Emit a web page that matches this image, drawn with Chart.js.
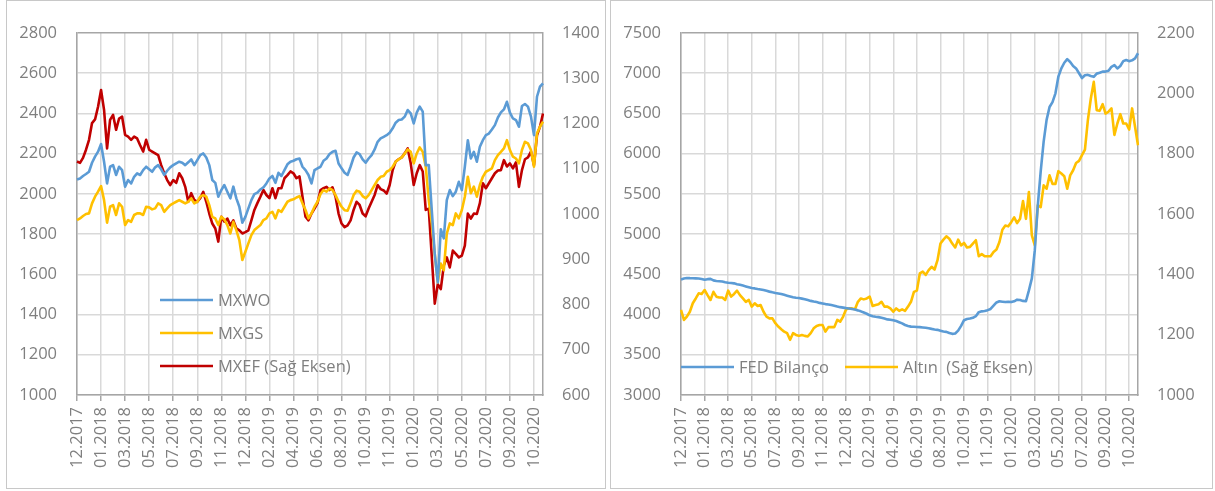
<!DOCTYPE html>
<html>
<head>
<meta charset="utf-8">
<script src="https://cdn.jsdelivr.net/npm/chart.js@4"></script>
<style>
  body { margin: 0; background: #ffffff; }
  .panel { position: absolute; top: 0; height: 487px; border: 1px solid #c8c8c8; background: #fff; }
  #leftPanel { left: 6px; width: 598px; }
  #rightPanel { left: 610px; width: 601px; }
  canvas { display: block; }
</style>
</head>
<body>
<div class="panel" id="leftPanel"><canvas id="leftChart" width="598" height="487"></canvas></div>
<div class="panel" id="rightPanel"><canvas id="rightChart" width="601" height="487"></canvas></div>
<script>
// axis labels shown under the charts (one every 8 weeks)
const tickLabels = ['12.2017','01.2018','03.2018','05.2018','07.2018','09.2018','11.2018','12.2018',
  '02.2019','04.2019','06.2019','08.2019','10.2019','11.2019','01.2020','03.2020',
  '05.2020','07.2020','09.2020','10.2020']

// weekly values
const mxwo = [2072,2077,2089,2099,2110,2155,2185,2210,
  2248,2160,2052,2135,2143,2094,2135,2118,
  2036,2069,2052,2085,2102,2094,2118,2135,
  2122,2110,2132,2143,2122,2094,2115,2132,
  2143,2152,2160,2155,2143,2157,2172,2143,
  2168,2193,2201,2181,2143,2069,2055,1986,
  2019,2044,2011,1978,2036,1978,1936,1857,
  1886,1928,1969,1999,2006,2022,2032,2052,
  2077,2089,2055,2105,2089,2118,2147,2160,
  2165,2172,2176,2135,2118,2094,2052,2118,
  2127,2135,2165,2176,2198,2209,2214,2151,
  2127,2105,2094,2135,2181,2206,2198,2172,
  2155,2176,2193,2221,2259,2276,2284,2292,
  2304,2326,2354,2367,2370,2384,2417,2400,
  2350,2404,2434,2409,2143,2143,1920,1700,
  1560,1824,1779,1969,2019,1989,2011,2060,
  2019,2135,2267,2176,2209,2160,2234,2267,
  2292,2300,2320,2342,2380,2405,2420,2458,
  2404,2375,2367,2334,2437,2447,2434,2384,
  2292,2483,2533,2550]

const mxgs = [1870,1878,1890,1900,1903,1953,1986,2011,
  2039,1969,1857,1936,1944,1895,1953,1936,
  1845,1870,1861,1895,1903,1903,1895,1936,
  1933,1923,1928,1953,1944,1911,1928,1944,
  1953,1961,1969,1961,1953,1961,1978,1953,
  1961,1986,1994,1986,1944,1886,1878,1845,
  1886,1873,1845,1803,1861,1820,1770,1671,
  1712,1754,1795,1820,1833,1845,1870,1878,
  1903,1911,1878,1919,1911,1936,1961,1969,
  1973,1982,1989,1953,1920,1878,1903,1936,
  1961,1999,2019,2011,2027,2019,1994,1961,
  1936,1919,1916,1953,1994,2016,2011,1989,
  1978,1994,2019,2044,2069,2085,2089,2110,
  2118,2135,2160,2172,2181,2201,2221,2209,
  2152,2201,2231,2209,2135,1969,1853,1700,
  1560,1654,1621,1803,1853,1845,1903,1878,
  1919,1986,2085,2003,2036,1986,2044,2085,
  2110,2118,2127,2168,2193,2209,2226,2267,
  2218,2185,2176,2152,2218,2259,2251,2218,
  2135,2301,2334,2359]

const mxef = [1116,1113,1124,1142,1164,1201,1209,1237,
  1274,1230,1145,1208,1219,1186,1211,1215,
  1175,1171,1164,1171,1167,1152,1138,1164,
  1142,1138,1134,1130,1108,1090,1075,1064,
  1075,1069,1090,1079,1060,1027,1046,1031,
  1027,1035,1049,1027,1001,979,968,939,
  994,983,990,975,986,968,964,957,
  960,964,986,1009,1024,1038,1053,1042,
  1035,1057,1035,1057,1057,1079,1086,1094,
  1090,1079,1083,1038,994,986,1001,1012,
  1024,1053,1057,1060,1053,1059,1038,1001,
  979,971,975,986,1009,1027,1020,1001,
  995,1012,1027,1042,1064,1055,1052,1045,
  1064,1097,1116,1121,1125,1134,1145,1112,
  1064,1090,1108,1094,1009,1012,906,802,
  845,834,886,904,882,919,912,904,
  908,930,1001,990,1001,1000,1024,1068,
  1057,1068,1079,1090,1096,1097,1119,1105,
  1112,1101,1114,1060,1097,1121,1125,1138,
  1108,1174,1193,1222]

const fedBalance = [4436,4448,4455,4453,4452,4450,4448,4442,
  4432,4440,4443,4425,4418,4415,4410,4402,
  4395,4392,4388,4378,4370,4360,4350,4340,
  4330,4325,4318,4312,4305,4295,4285,4276,
  4268,4262,4255,4245,4235,4225,4215,4208,
  4205,4198,4190,4180,4170,4162,4155,4145,
  4138,4130,4125,4118,4110,4100,4092,4086,
  4080,4076,4070,4062,4052,4040,4025,4010,
  3990,3978,3972,3968,3960,3950,3940,3935,
  3928,3920,3905,3890,3870,3858,3850,3848,
  3846,3844,3840,3836,3830,3822,3815,3810,
  3800,3790,3785,3770,3760,3765,3800,3860,
  3930,3945,3950,3960,3980,4030,4040,4045,
  4055,4070,4110,4150,4165,4160,4155,4160,
  4155,4165,4185,4180,4170,4165,4300,4450,
  4800,5350,5780,6150,6420,6580,6640,6750,
  6960,7060,7130,7175,7140,7090,7060,7000,
  6940,6975,6980,6965,6955,6995,7005,7020,
  7020,7030,7080,7100,7060,7090,7150,7165,
  7150,7160,7185,7248]

const gold = [1282,1249,1260,1276,1304,1320,1337,1335,
  1348,1331,1315,1342,1326,1323,1323,1315,
  1346,1326,1335,1346,1331,1320,1309,1315,
  1293,1304,1295,1298,1276,1260,1254,1254,
  1238,1227,1218,1210,1205,1183,1205,1199,
  1196,1199,1196,1194,1205,1221,1229,1232,
  1232,1210,1225,1225,1225,1249,1243,1260,
  1284,1287,1287,1284,1309,1320,1317,1320,
  1326,1295,1298,1301,1309,1293,1293,1287,
  1276,1287,1279,1284,1279,1293,1309,1342,
  1346,1403,1409,1398,1414,1425,1416,1447,
  1502,1515,1526,1518,1502,1489,1515,1496,
  1504,1489,1491,1502,1513,1460,1467,1460,
  1460,1460,1474,1482,1507,1548,1562,1559,
  1573,1589,1570,1584,1643,1584,1673,1529,
  1496,1629,1623,1695,1684,1728,1700,1700,
  1742,1734,1725,1684,1728,1745,1769,1776,
  1795,1813,1911,1983,2038,1944,1942,1964,
  1933,1939,1950,1862,1900,1931,1900,1900,
  1880,1950,1889,1828]

const weeksPerLabel = 8

// one category per week, named after the month label it falls under
weeks = []
for (let i = 0; i < mxwo.length; i++) {
  weeks.push(tickLabels[Math.floor(i / weeksPerLabel)])
}

const textGray = '#7f7f7f'
const gridGray = '#d9d9d9'
const frameGray = '#a6a6a6'
const fontFamily = "'Open Sans', 'Noto Sans', sans-serif"
const fontSize = 16.5

// plain numbers on the value axes, no thousands separator
function plainNumber(value) {
  return String(value)
}

// legend drawn inside the plot area, like the excel original
const insideLegend = {
  id: 'insideLegend',
  afterDatasetsDraw(chart, args, opts) {
    const ctx = chart.ctx
    const area = chart.chartArea
    ctx.save()
    ctx.font = fontSize + 'px ' + fontFamily
    ctx.textBaseline = 'middle'
    ctx.fillStyle = textGray
    chart.data.datasets.forEach((ds, k) => {
      const spot = opts.spots[k]
      const x = area.left + spot[0]
      const y = area.top + spot[1]
      ctx.strokeStyle = ds.borderColor
      ctx.lineWidth = ds.borderWidth
      ctx.beginPath()
      ctx.moveTo(x, y)
      ctx.lineTo(x + opts.lineLength, y)
      ctx.stroke()
      ctx.fillText(opts.names[k] || ds.label, x + opts.lineLength + opts.gap, y + 1)
    })
    ctx.restore()
  }
}

function lineSet(label, data, color, axis) {
  return {
    label: label,
    data: data,
    yAxisID: axis,
    borderColor: color,
    backgroundColor: color,
    borderWidth: 2.6,
    pointRadius: 0,
    tension: 0,
    borderJoinStyle: 'round',
    fill: false
  }
}

function makeOptions(leftMin, leftMax, leftStep, rightMin, rightMax, rightStep, rightWidth, legendOpts) {
  return {
    responsive: false,
    animation: false,
    layout: { padding: { top: 32, left: 0, right: 0, bottom: 0 } },
    plugins: {
      legend: { display: false },
      tooltip: { enabled: false },
      insideLegend: legendOpts
    },
    scales: {
      x: {
        type: 'category',
        offset: false,
        afterFit: (scale) => { scale.height = 93 },
        border: { display: true, color: frameGray, width: 1.5 },
        grid: {
          drawTicks: true,
          tickLength: 6,
          lineWidth: 1.5,
          color: (c) => (c.index % weeksPerLabel === 0 ? gridGray : 'rgba(0,0,0,0)'),
          tickColor: (c) => (c.index % weeksPerLabel === 0 ? frameGray : 'rgba(0,0,0,0)'),
          tickWidth: 1.5
        },
        ticks: {
          autoSkip: false,
          maxRotation: 90,
          minRotation: 90,
          padding: 6,
          color: textGray,
          font: { family: fontFamily, size: fontSize },
          callback: function (value, index) {
            return index % weeksPerLabel === 0 ? this.getLabelForValue(value) : ''
          }
        }
      },
      y: {
        position: 'left',
        min: leftMin,
        max: leftMax,
        afterFit: (scale) => { scale.width = 70 },
        border: { display: true, color: frameGray, width: 1.5 },
        grid: {
          drawTicks: false,
          lineWidth: 1.5,
          color: (c) => (c.tick && c.tick.value === leftMax ? frameGray : gridGray)
        },
        ticks: {
          stepSize: leftStep,
          padding: 20,
          color: textGray,
          font: { family: fontFamily, size: fontSize },
          callback: plainNumber
        }
      },
      y1: {
        position: 'right',
        min: rightMin,
        max: rightMax,
        afterFit: (scale) => { scale.width = rightWidth },
        border: { display: true, color: frameGray, width: 1.5 },
        grid: { display: false, drawTicks: false },
        ticks: {
          stepSize: rightStep,
          padding: 19,
          color: textGray,
          font: { family: fontFamily, size: fontSize },
          callback: plainNumber
        }
      }
    }
  }
}

new Chart(document.getElementById('leftChart').getContext('2d'), {
  type: 'line',
  data: {
    labels: weeks,
    datasets: [
      lineSet('MXWO', mxwo, '#5b9bd5', 'y'),
      lineSet('MXGS', mxgs, '#ffc000', 'y'),
      lineSet('MXEF (Sağ Eksen)', mxef, '#c00000', 'y1')
    ]
  },
  options: makeOptions(1000, 2800, 200, 600, 1400, 100, 62, {
    spots: [[83, 267], [83, 300], [83, 333]],
    names: [],
    lineLength: 53,
    gap: 5
  }),
  plugins: [insideLegend]
})

new Chart(document.getElementById('rightChart').getContext('2d'), {
  type: 'line',
  data: {
    labels: weeks,
    datasets: [
      lineSet('FED Bilanço', fedBalance, '#5b9bd5', 'y'),
      lineSet('Altın  (Sağ Eksen)', gold, '#ffc000', 'y1')
    ]
  },
  options: makeOptions(3000, 7500, 500, 1000, 2200, 200, 74, {
    spots: [[0, 334], [164, 334]],
    names: ['FED Bilanço', 'Altın\u00a0\u00a0(Sağ Eksen)'],
    lineLength: 53,
    gap: 5
  }),
  plugins: [insideLegend]
})
</script>
</body>
</html>
